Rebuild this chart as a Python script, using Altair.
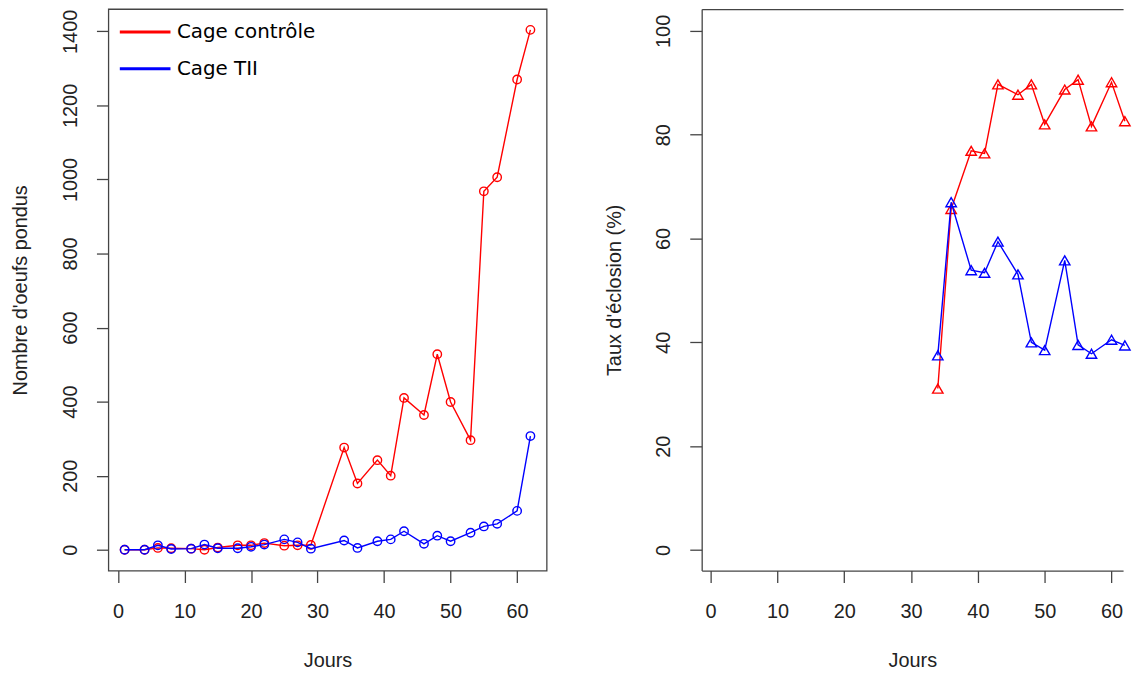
import altair as alt
import pandas as pd

# ---------------- data ----------------
days_eggs = [1, 4, 6, 8, 11, 13, 15, 18, 20, 22, 25, 27, 29,
             34, 36, 39, 41, 43, 46, 48, 50, 53, 55, 57, 60, 62]
eggs_control = [0, 0, 5, 4, 3, 0, 6, 12, 12, 18, 11, 12, 13,
                276, 179, 242, 200, 410, 364, 528, 399, 296, 968, 1006, 1270, 1404]
eggs_tii = [0, 0, 12, 2, 3, 14, 4, 4, 8, 14, 28, 20, 3,
            25, 5, 23, 28, 50, 16, 38, 23, 46, 63, 70, 105, 307]

days_hatch = [34, 36, 39, 41, 43, 46, 48, 50, 53, 55, 57, 60, 62]
hatch_control = [31.1, 65.7, 76.9, 76.4, 89.7, 87.7, 89.7, 82.0, 88.7, 90.6, 81.6, 90.1, 82.6]
hatch_tii = [37.5, 67.0, 53.9, 53.4, 59.4, 53.1, 40.0, 38.5, 55.8, 39.5, 37.8, 40.5, 39.4]

series_names = ["Cage contrôle", "Cage TII"]
series_colors = ["#FF0000", "#0000FF"]

x_ticks = [0, 10, 20, 30, 40, 50, 60]
eggs_ticks = [0, 200, 400, 600, 800, 1000, 1200, 1400]
hatch_ticks = [0, 20, 40, 60, 80, 100]

# ---------------- tables ----------------
df_eggs_c = pd.DataFrame({"jour": days_eggs, "val": eggs_control, "serie": series_names[0]})
df_eggs_t = pd.DataFrame({"jour": days_eggs, "val": eggs_tii, "serie": series_names[1]})
df_hatch_c = pd.DataFrame({"jour": days_hatch, "val": hatch_control, "serie": series_names[0]})
df_hatch_t = pd.DataFrame({"jour": days_hatch, "val": hatch_tii, "serie": series_names[1]})

FONT = "Liberation Sans"
FRAME = "#444444"
LW = 1.4
X_DOM_L = [-1.44, 64.44]
X_DOM_R = [-1.34, 61.73]
X_TITLE_PAD = 30

def x_enc(dom):
    return alt.X("jour:Q",
                 scale=alt.Scale(domain=dom, nice=False, zero=False),
                 axis=alt.Axis(values=x_ticks, format="d", title="Jours",
                               titlePadding=X_TITLE_PAD))

color_scale = alt.Scale(domain=series_names, range=series_colors)

# ---------------- left panel ----------------
y_left = alt.Y("val:Q",
               scale=alt.Scale(domain=[-56.2, 1460.2], nice=False, zero=False),
               axis=alt.Axis(values=eggs_ticks, format="d", title="Nombre d'oeufs pondus"))

legend = alt.Legend(title=None, orient="none", legendX=10, legendY=-4,
                    symbolType="stroke", symbolSize=2600, symbolStrokeWidth=3,
                    labelFont="DejaVu Sans", labelFontSize=20, labelColor="#000000",
                    labelOffset=5, rowPadding=0, labelLimit=300)

def left_line(df):
    return alt.Chart(df).mark_line(strokeWidth=LW).encode(
        x=x_enc(X_DOM_L), y=y_left,
        color=alt.Color("serie:N", scale=color_scale, legend=legend))

def left_pts(df, col):
    return alt.Chart(df).mark_point(shape="circle", filled=False, size=72,
                                    strokeWidth=LW, color=col, opacity=1).encode(
        x=x_enc(X_DOM_L), y=y_left)

left = alt.layer(
    left_line(df_eggs_c), left_pts(df_eggs_c, series_colors[0]),
    left_line(df_eggs_t), left_pts(df_eggs_t, series_colors[1]),
).properties(width=441, height=565)

# ---------------- right panel (frame cut at the right edge) ----------------
x_scale_r = alt.Scale(domain=X_DOM_R, nice=False, zero=False)
x_r_main = alt.X("jour:Q", scale=x_scale_r,
                 axis=alt.Axis(values=x_ticks, format="d", title="Jours",
                               titlePadding=X_TITLE_PAD, orient="bottom", domain=True,
                               domainColor=FRAME, domainWidth=1.3))
x_r_plain = alt.X("jour:Q", scale=x_scale_r, axis=None)

y_right = alt.Y("val:Q",
                scale=alt.Scale(domain=[-3.96, 104.2], nice=False, zero=False),
                axis=alt.Axis(values=hatch_ticks, format="d", title="Taux d'éclosion (%)",
                              domain=True, domainColor=FRAME, domainWidth=1.3))

def right_line(df, col, xe):
    return alt.Chart(df).mark_line(strokeWidth=LW, color=col).encode(x=xe, y=y_right)

def right_pts(df, col):
    return alt.Chart(df).mark_point(shape="triangle-up", filled=False, size=110,
                                    strokeWidth=LW, color=col, opacity=1).encode(
        x=x_r_plain, y=y_right)

top_edge = alt.Chart(df_hatch_c).mark_point(opacity=0).encode(
    x=alt.X("jour:Q", scale=x_scale_r,
            axis=alt.Axis(orient="top", labels=False, ticks=False, title="",
                          domain=True, domainColor=FRAME, domainWidth=1.3)),
    y=y_right,
)

right = alt.layer(
    right_line(df_hatch_c, series_colors[0], x_r_main), right_pts(df_hatch_c, series_colors[0]),
    right_line(df_hatch_t, series_colors[1], x_r_plain), right_pts(df_hatch_t, series_colors[1]),
    top_edge,
).resolve_axis(x="independent").properties(
    width=424, height=565, view=alt.ViewBackground(stroke="transparent")
)

chart = alt.hconcat(left, right, spacing=56).properties(
    padding={"left": 2, "top": -5, "right": 0, "bottom": 0}
).configure_view(
    stroke=FRAME, strokeWidth=1.3
).configure_axis(
    grid=False, domain=False,
    tickSize=12, tickColor=FRAME, tickWidth=1.3,
    labelFont=FONT, labelFontSize=20, labelColor="#222222",
    titleFont=FONT, titleFontSize=20, titleFontWeight="normal", titleColor="#222222",
).configure_axisX(
    labelPadding=19,
).configure_axisY(
    labelAngle=270, labelAlign="center", labelBaseline="bottom",
    labelPadding=16, titlePadding=30,
)

chart.save("out.html", embed_options={"renderer": "svg", "actions": False})
